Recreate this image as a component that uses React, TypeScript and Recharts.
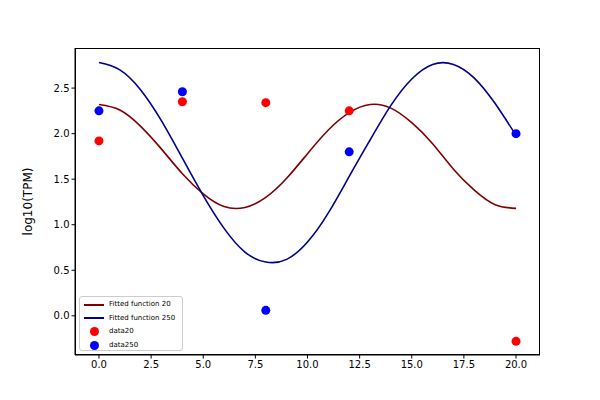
import React from 'react';
import { ComposedChart, Line, Scatter, XAxis, YAxis } from 'recharts';

const fitX = [0, 1, 2, 3, 4, 5, 6, 7, 8, 9, 10, 11, 12, 13, 14, 15, 16, 17, 18, 19, 20];
const fit20 = [2.32, 2.26, 2.08, 1.83, 1.56, 1.34, 1.2, 1.19, 1.3, 1.51, 1.78, 2.04, 2.23, 2.32, 2.28, 2.12, 1.89, 1.61, 1.38, 1.22, 1.18];
const fit250 = [2.78, 2.7, 2.48, 2.14, 1.73, 1.32, 0.96, 0.7, 0.59, 0.62, 0.81, 1.13, 1.53, 1.93, 2.31, 2.6, 2.76, 2.76, 2.61, 2.33, 1.98];
const pointX = [0, 4, 8, 12, 20];
const data20 = [1.92, 2.35, 2.34, 2.25, -0.28];
const data250 = [2.25, 2.46, 0.06, 1.8, 2.0];
const xTicks = [0, 2.5, 5, 7.5, 10, 12.5, 15, 17.5, 20];
const yTicks = [0, 0.5, 1, 1.5, 2, 2.5];

const line20 = fitX.map((x, i) => ({ x, y: fit20[i] }));
const line250 = fitX.map((x, i) => ({ x, y: fit250[i] }));
const pts20 = pointX.map((x, i) => ({ x, y: data20[i] }));
const pts250 = pointX.map((x, i) => ({ x, y: data250[i] }));

const dot = (color: string) => (p: any) => <circle cx={p.cx} cy={p.cy} r={4.5} fill={color} />;
const tickStyle = { fill: '#000', fontSize: 10 };

export default function App() {
  return (
    <div style={{ position: 'absolute', left: 0, top: 0, width: 600, height: 400, background: '#fff', fontFamily: 'DejaVu Sans' }}>
      <ComposedChart width={600} height={400} margin={{ top: 48, right: 60, bottom: 0, left: 0 }}>
        <XAxis type="number" dataKey="x" domain={[-1.15, 21.15]} ticks={xTicks} tickFormatter={(v: number) => v.toFixed(1)}
          height={45} stroke="#000" tick={tickStyle} tickSize={3.5} allowDuplicatedCategory={false} />
        <YAxis type="number" dataKey="y" domain={[-0.43, 2.94]} ticks={yTicks} tickFormatter={(v: number) => v.toFixed(1)}
          width={75} stroke="#000" tick={tickStyle} tickSize={3.5}
          label={{ value: 'log10(TPM)', angle: -90, position: 'insideLeft', offset: 28, style: { fill: '#000', fontSize: 12, textAnchor: 'middle' } }} />
        <Line data={line20} dataKey="y" type="natural" stroke="#800000" strokeWidth={1.6} dot={false} isAnimationActive={false} />
        <Line data={line250} dataKey="y" type="natural" stroke="#00008b" strokeWidth={1.6} dot={false} isAnimationActive={false} />
        <Scatter data={pts20} dataKey="y" shape={dot('#ff0000')} isAnimationActive={false} />
        <Scatter data={pts250} dataKey="y" shape={dot('#0000ff')} isAnimationActive={false} />
      </ComposedChart>
      <div style={{ position: 'absolute', left: 75, top: 48, width: 465, height: 307, border: '1px solid #000', boxSizing: 'border-box', pointerEvents: 'none' }} />
      <div style={{ position: 'absolute', left: 79, top: 296, width: 104, height: 55, border: '1px solid #ccc', borderRadius: 3, background: '#fff', fontSize: 7, lineHeight: '13.5px', padding: '1px 0 0 4px', boxSizing: 'border-box' }}>
        {[
          ['line', '#800000', 'Fitted function 20'],
          ['line', '#00008b', 'Fitted function 250'],
          ['dot', '#ff0000', 'data20'],
          ['dot', '#0000ff', 'data250'],
        ].map(([kind, color, label]) => (
          <div key={label} style={{ display: 'flex', alignItems: 'center' }}>
            <div style={{ width: 20, display: 'flex', justifyContent: 'center', marginRight: 5 }}>
              {kind === 'line'
                ? <div style={{ width: 20, height: 2, background: color }} />
                : <div style={{ width: 9, height: 9, borderRadius: '50%', background: color }} />}
            </div>
            <span>{label}</span>
          </div>
        ))}
      </div>
    </div>
  );
}
